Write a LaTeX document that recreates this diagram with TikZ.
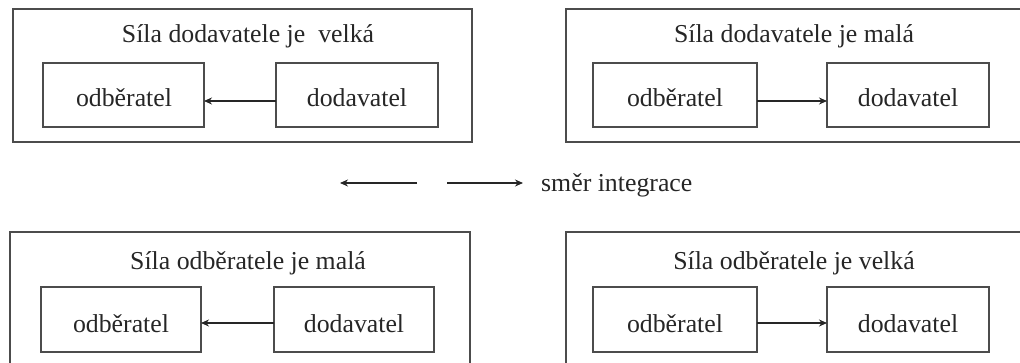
\documentclass[tikz,border=0pt]{standalone}
\usepackage{fontspec}
\setmainfont{Liberation Serif}
\usetikzlibrary{arrows.meta}
\begin{document}
\begin{tikzpicture}[x=1pt,y=-1pt,
  outerbox/.style={draw=black!70,line width=1.6pt},
  innerbox/.style={draw=black!70,line width=1.6pt,inner sep=0pt,outer sep=0pt,rectangle},
  lbl/.style={font=\fontsize{25.8}{30}\selectfont,text=black!85,inner sep=0pt},
  conn/.style={draw=black!85,line width=1.1pt,-{Stealth[length=8pt,width=7pt]}}]
\useasboundingbox (0,0) rectangle (1020,363);
\clip (0,0) rectangle (1020,363);
% outer boxes
\draw[outerbox] (13,9) rectangle (472,142);
\draw[outerbox] (566,9) rectangle (1030,142);
\draw[outerbox] (10,232) rectangle (470,380);
\draw[outerbox] (566,232) rectangle (1030,380);
% titles
\node[lbl,anchor=base] (t1) at (248,43) {Síla dodavatele je\ \ velká};
\node[lbl,anchor=base] (t2) at (794,43) {Síla dodavatele je malá};
\node[lbl,anchor=base] (t3) at (248,270) {Síla odběratele je malá};
\node[lbl,anchor=base] (t4) at (794,270) {Síla odběratele je velká};
% inner boxes
\node[innerbox,minimum width=161pt,minimum height=64pt] (b1o) at (123.5,95) {};
\node[innerbox,minimum width=162pt,minimum height=64pt] (b1d) at (357,95) {};
\node[innerbox,minimum width=164pt,minimum height=64pt] (b2o) at (675,95) {};
\node[innerbox,minimum width=162pt,minimum height=64pt] (b2d) at (908,95) {};
\node[innerbox,minimum width=160pt,minimum height=65pt] (b3o) at (121,319.5) {};
\node[innerbox,minimum width=160pt,minimum height=65pt] (b3d) at (354,319.5) {};
\node[innerbox,minimum width=164pt,minimum height=65pt] (b4o) at (675,319.5) {};
\node[innerbox,minimum width=162pt,minimum height=65pt] (b4d) at (908,319.5) {};
\node[lbl,anchor=base] (o1) at (124,107) {odběratel};
\node[lbl,anchor=base] (d1) at (357,107) {dodavatel};
\node[lbl,anchor=base] (o2) at (675,107) {odběratel};
\node[lbl,anchor=base] (d2) at (908,107) {dodavatel};
\node[lbl,anchor=base] (o3) at (121,332) {odběratel};
\node[lbl,anchor=base] (d3) at (354,332) {dodavatel};
\node[lbl,anchor=base] (o4) at (675,332) {odběratel};
\node[lbl,anchor=base] (d4) at (908,332) {dodavatel};
\draw[conn] ([yshift=-6pt]b1d.west) -- ([yshift=-6pt]b1o.east);
\draw[conn] ([yshift=-6pt]b2o.east) -- ([yshift=-6pt]b2d.west);
\draw[conn] ([yshift=-3.5pt]b3d.west) -- ([yshift=-3.5pt]b3o.east);
\draw[conn] ([yshift=-3.5pt]b4o.east) -- ([yshift=-3.5pt]b4d.west);
% middle legend
\coordinate (l1s) at (417,183); \coordinate (l1e) at (340,183);
\coordinate (l2s) at (447,183); \coordinate (l2e) at (523,183);
\draw[conn] (l1s) -- (l1e);
\draw[conn] (l2s) -- (l2e);
\node[lbl,anchor=base west] (leg) at (541,192) {směr integrace};
\end{tikzpicture}
\end{document}
